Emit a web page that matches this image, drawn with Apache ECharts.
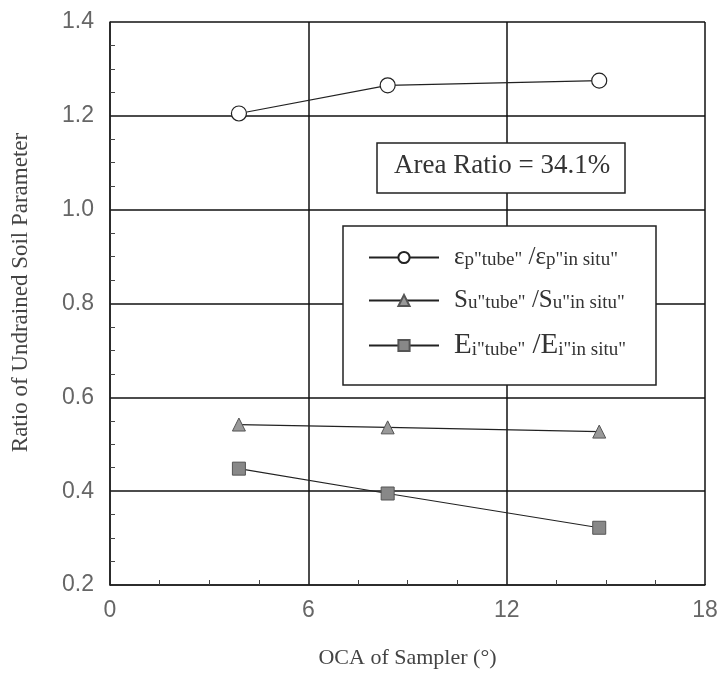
<!DOCTYPE html>
<html><head><meta charset="utf-8">
<script src="https://cdn.jsdelivr.net/npm/echarts@6/dist/echarts.min.js"></script>
<style>html,body{margin:0;padding:0;background:#fff}#c{width:722px;height:677px}</style>
</head><body><div id="c"></div>
<script>
const ocaX = [3.9, 8.4, 14.8];
const epsRatio = [1.205, 1.265, 1.275];
const suRatio = [0.542, 0.536, 0.527];
const eiRatio = [0.448, 0.395, 0.322];
const xTicks = [0, 6, 12, 18];
const yTicks = [0.2, 0.4, 0.6, 0.8, 1.0, 1.2, 1.4];
const seriesNames = ['eps', 'su', 'ei'];
const areaLabel = 'Area Ratio = 34.1%';

const pair = (xs, ys) => xs.map((x, i) => [x, ys[i]]);
const serif = '"Liberation Serif", "DejaVu Serif", serif';
const sans = '"Liberation Sans", Arial, sans-serif';

const chart = echarts.init(document.getElementById('c'));
const legendRich = {
  b: {fontFamily: serif, fontSize: 25, color: '#333'},
  e: {fontFamily: serif, fontSize: 29, color: '#333'},
  s: {fontFamily: serif, fontSize: 19, color: '#333', verticalAlign: 'bottom', padding: [5, 0, 0, 0]}
};
const legendText = {
  eps: '{b|ε}{s|p"tube"}{b| /ε}{s|p"in situ"}',
  su: '{b|S}{s|u"tube"}{b| /S}{s|u"in situ"}',
  ei: '{e|E}{s|i"tube"}{e| /E}{s|i"in situ"}'
};
const axisCommon = {
  axisLine: {show: true, lineStyle: {color: '#222', width: 1.5}},
  axisTick: {show: true, inside: true, length: 1, lineStyle: {color: '#222'}},
  minorTick: {show: true, splitNumber: 4, length: 5, lineStyle: {color: '#444'}},
  splitLine: {show: true, lineStyle: {color: '#111', width: 1.5}}
};
chart.setOption({
  animation: false,
  backgroundColor: '#fff',
  grid: {left: 110, right: 17, top: 22, bottom: 92},
  xAxis: Object.assign({
    type: 'value', min: 0, max: 18, interval: 6,
    name: 'OCA of Sampler (°)', nameLocation: 'middle', nameGap: 62,
    nameTextStyle: {fontFamily: serif, fontSize: 22, color: '#444'},
    axisLabel: {fontFamily: sans, fontSize: 23, color: '#666', margin: 14,
      formatter: v => xTicks.includes(v) ? String(v) : ''}
  }, axisCommon),
  yAxis: Object.assign({
    type: 'value', min: 0.2, max: 1.4, interval: 0.2,
    name: 'Ratio of Undrained Soil Parameter', nameLocation: 'middle', nameGap: 78,
    nameTextStyle: {fontFamily: serif, fontSize: 23, color: '#444', padding: [0, 0, 0, 22]},
    axisLabel: {fontFamily: sans, fontSize: 23, color: '#666', margin: 16,
      formatter: v => { const t = yTicks.find(y => Math.abs(y - v) < 1e-6); return t !== undefined ? t.toFixed(1) : ''; }}
  }, axisCommon),
  legend: {
    orient: 'vertical', left: 368, top: 245, z: 10, padding: 0,
    itemWidth: 70, itemHeight: 14, itemGap: 18,
    data: seriesNames,
    formatter: n => legendText[n],
    textStyle: {rich: legendRich, padding: [0, 0, 0, 10]}
  },
  graphic: [
    {type: 'rect', z: 5, shape: {x: 343, y: 226, width: 313, height: 159},
      style: {fill: '#fff', stroke: '#222', lineWidth: 1.5}},
    {type: 'rect', z: 5, shape: {x: 377, y: 143, width: 248, height: 50},
      style: {fill: '#fff', stroke: '#222', lineWidth: 1.5}},
    {type: 'text', z: 6, left: 394, top: 152,
      style: {text: areaLabel, fontFamily: serif, fontSize: 27, fill: '#333'}}
  ],
  series: [
    {name: 'eps', type: 'line', data: pair(ocaX, epsRatio), symbol: 'circle', symbolSize: 15,
      lineStyle: {color: '#222', width: 1.2}, itemStyle: {color: '#fff', borderColor: '#222', borderWidth: 1.2}},
    {name: 'su', type: 'line', data: pair(ocaX, suRatio), symbol: 'triangle', symbolSize: 13,
      lineStyle: {color: '#222', width: 1.2}, itemStyle: {color: '#999', borderColor: '#555', borderWidth: 1}},
    {name: 'ei', type: 'line', data: pair(ocaX, eiRatio), symbol: 'rect', symbolSize: 13,
      lineStyle: {color: '#222', width: 1.2}, itemStyle: {color: '#888', borderColor: '#555', borderWidth: 1}}
  ]
});
</script></body></html>
